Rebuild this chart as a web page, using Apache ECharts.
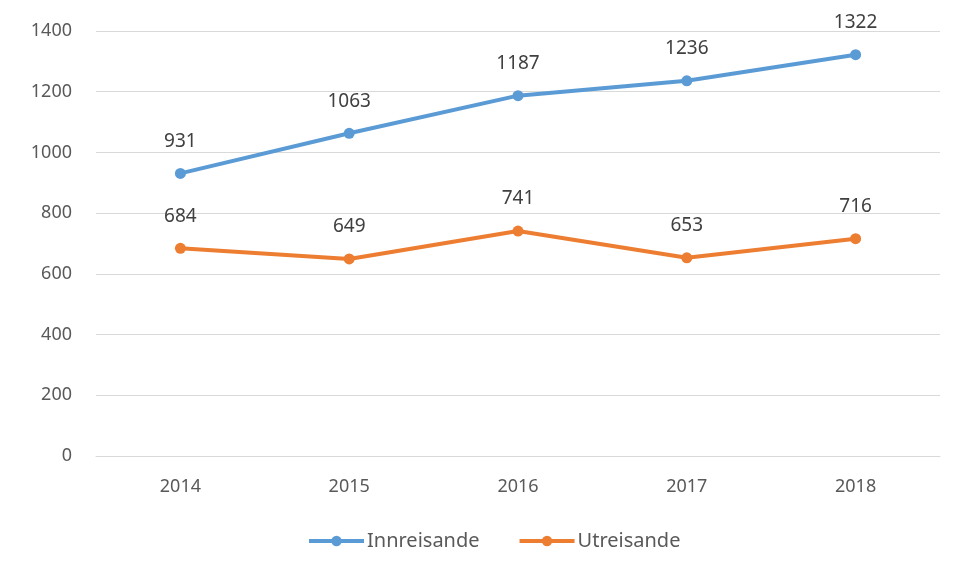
<!DOCTYPE html>
<html>
<head>
<meta charset="utf-8">
<script src="https://cdn.jsdelivr.net/npm/echarts@6/dist/echarts.min.js"></script>
<style>
  html, body { margin: 0; padding: 0; background: #fff; }
  #chart { width: 955px; height: 574px; }
</style>
</head>
<body>
<div id="chart"></div>
<script>
const years = ['2014', '2015', '2016', '2017', '2018'];
const innreisande = [931, 1063, 1187, 1236, 1322];
const utreisande = [684, 649, 741, 653, 716];

const chart = echarts.init(document.getElementById('chart'));
const font = 'Noto Sans, sans-serif';

chart.setOption({
  animation: false,
  textStyle: { fontFamily: font },
  grid: { left: 96, right: 15, top: 31, bottom: 118 },
  legend: {
    bottom: 18,
    left: 302,
    itemWidth: 55,
    itemHeight: 13,
    itemGap: 38,
    lineStyle: { width: 4 },
    textStyle: { fontSize: 20, color: '#595959', fontFamily: font, padding: [0, 0, 0, -2] },
    data: ['Innreisande', 'Utreisande']
  },
  xAxis: {
    type: 'category',
    data: years,
    axisLine: { lineStyle: { color: '#d9d9d9' } },
    axisTick: { show: false },
    axisLabel: { color: '#595959', fontSize: 18, margin: 22 }
  },
  yAxis: {
    type: 'value',
    min: 0,
    max: 1400,
    interval: 200,
    axisLabel: { color: '#595959', fontSize: 18, margin: 24, formatter: v => String(v) },
    splitLine: { lineStyle: { color: '#d9d9d9' } }
  },
  series: [
    {
      name: 'Innreisande',
      type: 'line',
      data: innreisande,
      color: '#5b9bd5',
      lineStyle: { width: 4 },
      symbol: 'circle',
      symbolSize: 11,
      label: { show: true, position: 'top', distance: 17, color: '#404040', fontSize: 19 }
    },
    {
      name: 'Utreisande',
      type: 'line',
      data: utreisande,
      color: '#ed7d31',
      lineStyle: { width: 4 },
      symbol: 'circle',
      symbolSize: 11,
      label: { show: true, position: 'top', distance: 17, color: '#404040', fontSize: 19 }
    }
  ]
});
</script>
</body>
</html>
